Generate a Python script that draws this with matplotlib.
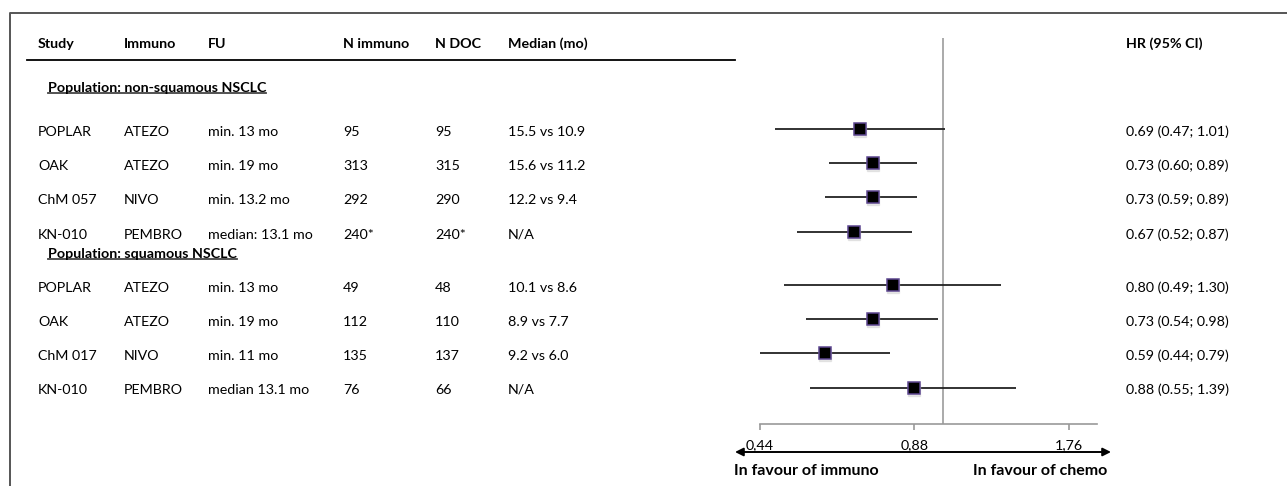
import matplotlib
matplotlib.use("Agg")
import matplotlib.pyplot as plt
from matplotlib.ticker import NullLocator

# table data
study = ["POPLAR", "OAK", "ChM 057", "KN-010", "POPLAR", "OAK", "ChM 017", "KN-010"]
immuno = ["ATEZO", "ATEZO", "NIVO", "PEMBRO", "ATEZO", "ATEZO", "NIVO", "PEMBRO"]
fu = ["min. 13 mo", "min. 19 mo", "min. 13.2 mo", "median: 13.1 mo",
      "min. 13 mo", "min. 19 mo", "min. 11 mo", "median 13.1 mo"]
n_immuno = ["95", "313", "292", "240*", "49", "112", "135", "76"]
n_doc = ["95", "315", "290", "240*", "48", "110", "137", "66"]
median = ["15.5 vs 10.9", "15.6 vs 11.2", "12.2 vs 9.4", "N/A",
          "10.1 vs 8.6", "8.9 vs 7.7", "9.2 vs 6.0", "N/A"]
hr = [0.69, 0.73, 0.73, 0.67, 0.80, 0.73, 0.59, 0.88]
ci_lo = [0.47, 0.60, 0.59, 0.52, 0.49, 0.54, 0.44, 0.55]
ci_hi = [1.01, 0.89, 0.89, 0.87, 1.30, 0.98, 0.79, 1.39]

headers = ["Study", "Immuno", "FU", "N immuno", "N DOC", "Median (mo)"]
groups = ["Population: non-squamous NSCLC", "Population: squamous NSCLC"]
ticks = [0.44, 0.88, 1.76]
tick_labels = ["0,44", "0,88", "1,76"]

# layout (figure pixels)
W, H = 1287, 486
col_x = [38, 124, 208, 343, 435, 508]
hr_x = 1126
header_y = 44
group_y = [88, 254]
row_y = [131, 165, 199, 234, 287, 321, 355, 389]
FS = 10.3
plt.rcParams['font.family'] = ['Lato', 'DejaVu Sans']

fig = plt.figure(figsize=(W / 100, H / 100), dpi=100)
tab = fig.add_axes([0, 0, 1, 1])
tab.set_xlim(0, W)
tab.set_ylim(H, 0)
tab.axis("off")

# frame
tab.plot([9.5, 9.5, W], [H, 13, 13], color="#555555", lw=1.4, solid_capstyle="butt")

for x, h in zip(col_x, headers):
    tab.text(x, header_y, h, fontsize=FS, fontweight="bold", va="center", ha="left")
tab.text(hr_x, header_y, "HR (95% CI)", fontsize=FS, fontweight="bold", va="center", ha="left")
tab.plot([27, 735], [60.5, 60.5], color="black", lw=1.3)

cols = [study, immuno, fu, n_immuno, n_doc, median]
for i, y in enumerate(row_y):
    for x, col in zip(col_x, cols):
        tab.text(x, y + 0.5, col[i], fontsize=FS, va="center", ha="left")
    tab.text(hr_x, y + 0.5, f"{hr[i]:.2f} ({ci_lo[i]:.2f}; {ci_hi[i]:.2f})",
             fontsize=FS, va="center", ha="left")

group_texts = []
for g, y in zip(groups, group_y):
    group_texts.append(tab.text(48, y, g, fontsize=FS, fontweight="bold", va="center", ha="left"))

# forest plot
fa = fig.add_axes([760 / W, (H - 424) / H, 337 / W, 386 / H])
fa.set_xscale("log")
fa.set_xlim(0.44, 2.0)
fa.set_ylim(424, 38)
fa.axvline(1.0, color="#aaaaaa", lw=1.4, zorder=1)
fa.hlines([y - 1.5 for y in row_y], ci_lo, ci_hi, color="#222222", lw=1.3, zorder=2)
fa.plot(hr, [y + 0.5 for y in row_y], "s", ms=9, color="#d0d0d0", alpha=0.5, zorder=2)
fa.plot(hr, [y - 1.5 for y in row_y], "s", ms=8.5, mfc="black", mec="#5d4690", mew=1.1, zorder=3)
for s in ["top", "left", "right"]:
    fa.spines[s].set_visible(False)
fa.spines["bottom"].set_color("#999999")
fa.spines["bottom"].set_linewidth(1.2)
fa.set_xticks(ticks)
fa.set_xticklabels(tick_labels)
fa.xaxis.set_minor_locator(NullLocator())
fa.tick_params(axis="x", direction="out", length=4, width=1.2, color="#999999",
               pad=7, labelsize=FS)
fa.set_yticks([])
fa.patch.set_alpha(0)

# direction arrow
tab.annotate("", xy=(735, 452), xytext=(1111, 452),
             arrowprops=dict(arrowstyle="<|-|>", color="black", lw=1.4,
                             mutation_scale=12, shrinkA=0, shrinkB=0))
tab.text(734, 471, "In favour of immuno", fontsize=11.5, fontweight="bold", va="center", ha="left")
tab.text(1107, 471, "In favour of chemo", fontsize=11.5, fontweight="bold", va="center", ha="right")

# underline group titles
fig.canvas.draw()
r = fig.canvas.get_renderer()
inv = tab.transData.inverted()
for t in group_texts:
    bb = t.get_window_extent(r)
    x0, y0 = inv.transform((bb.x0, bb.y0))
    x1, _ = inv.transform((bb.x1, bb.y0))
    tab.plot([x0, x1], [y0 - 1, y0 - 1], color="#444444", lw=1.3)

fig.savefig("out.png", dpi=100)
